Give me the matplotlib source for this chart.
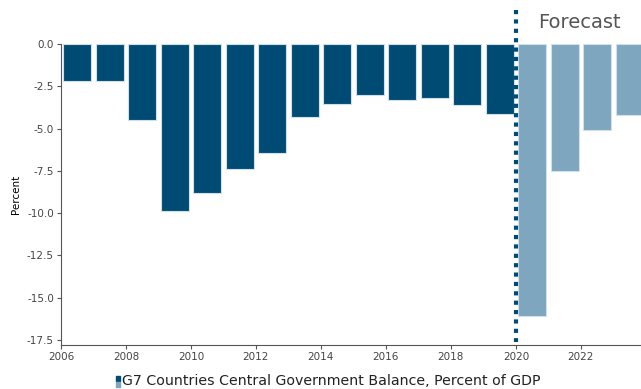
import numpy as np
import matplotlib.pyplot as plt
from matplotlib.patches import Rectangle

# Data
years = [2006, 2007, 2008, 2009, 2010, 2011, 2012, 2013, 2014, 2015,
         2016, 2017, 2018, 2019, 2020, 2021, 2022, 2023]
balance = [-2.2, -2.2, -4.5, -9.9, -8.8, -7.4, -6.45, -4.3, -3.55, -3.0,
           -3.3, -3.2, -3.6, -4.15, -16.1, -7.5, -5.1, -4.2]
forecast_start = 2020
xticks = [2006, 2008, 2010, 2012, 2014, 2016, 2018, 2020, 2022]
yticks = [0.0, -2.5, -5.0, -7.5, -10.0, -12.5, -15.0, -17.5]

dark = '#004b73'
light = '#7fa6bf'
plt.rcParams['font.family'] = ['DejaVu Sans']

fig = plt.figure(figsize=(6.41, 3.89), dpi=100)
ax = fig.add_axes([0.095, 0.113, 0.905, 0.774])

x = np.array(years) + 0.5
colors = [light if y >= forecast_start else dark for y in years]
ax.bar(x, balance, width=0.86, color=colors, edgecolor='#cfe0ea', linewidth=0.8)

# forecast divider
ax.plot([forecast_start, forecast_start], [2.0, -17.6], color=dark, lw=3.0,
        linestyle=(0, (1.0, 1.25)), dash_capstyle='butt', clip_on=False, zorder=5)
ax.text(2021.95, 1.25, 'Forecast', fontsize=14, color='#555555', ha='center', va='center')

ax.set_xlim(2006, 2023.85)
ax.set_ylim(-17.8, 0)
ax.set_xticks(xticks)
ax.set_xticklabels([str(t) for t in xticks], fontsize=7.5, color='#444444')
ax.set_yticks(yticks)
ax.set_yticklabels([f'{t:.1f}' for t in yticks], fontsize=7.5, color='#444444')
ax.set_ylabel('Percent', fontsize=7.5, labelpad=4)
for s in ['top', 'right']:
    ax.spines[s].set_visible(False)
for s in ['left', 'bottom']:
    ax.spines[s].set_color('#555555')
    ax.spines[s].set_linewidth(0.8)
ax.tick_params(length=3, width=0.8, color='#555555', pad=2)

# Legend
fig.patches.append(Rectangle((116 / 641, 1 - 381 / 389), 4 / 641, 5 / 389,
                             transform=fig.transFigure, color=dark))
fig.patches.append(Rectangle((116 / 641, 1 - 387 / 389), 4 / 641, 5 / 389,
                             transform=fig.transFigure, color=light))
fig.text(122 / 641, 1 - 381 / 389, 'G7 Countries Central Government Balance, Percent of GDP',
         fontsize=10.2, color='#222222', va='center', ha='left')

fig.savefig('out.png', dpi=100)
